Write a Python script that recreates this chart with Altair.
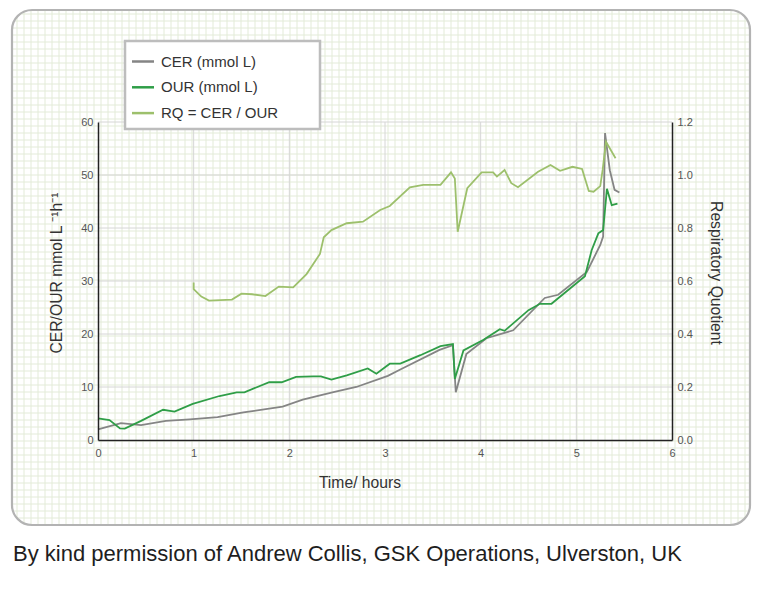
import altair as alt
import numpy as np
import pandas as pd

# ---------------- data ----------------
time_cer = [0, 0.24, 0.45, 0.71, 0.96, 1.25, 1.52, 1.93, 2.14, 2.45, 2.70, 3.03, 3.16,
            3.57, 3.71, 3.74, 3.85, 4.06, 4.34, 4.67, 4.81, 5.11, 5.25, 5.28, 5.30,
            5.35, 5.40, 5.45]
cer = [2.0, 3.2, 2.8, 3.6, 3.9, 4.3, 5.2, 6.3, 7.6, 9.0, 10.0, 12.1, 13.3,
       17.0, 17.9, 9.0, 16.2, 19.2, 20.7, 26.8, 27.4, 31.7, 36.8, 38.4, 57.9,
       50.9, 47.2, 46.7]

time_our = [0, 0.12, 0.23, 0.28, 0.45, 0.68, 0.80, 0.99, 1.27, 1.45, 1.53, 1.79, 1.92,
            2.07, 2.25, 2.33, 2.44, 2.60, 2.82, 2.91, 3.05, 3.16, 3.37, 3.58, 3.71,
            3.73, 3.82, 4.03, 4.20, 4.25, 4.50, 4.62, 4.74, 5.09, 5.16, 5.23, 5.28,
            5.32, 5.37, 5.43]
our = [4.1, 3.75, 2.2, 2.15, 3.6, 5.7, 5.35, 6.8, 8.3, 9.0, 9.0, 10.9, 10.9,
       11.9, 12.0, 12.0, 11.4, 12.2, 13.5, 12.5, 14.4, 14.4, 16.0, 17.7, 18.1,
       11.5, 16.9, 18.9, 20.9, 20.6, 24.5, 25.7, 25.7, 30.9, 35.8, 39.0, 39.6,
       47.4, 44.3, 44.6]

time_rq = [1.0, 1.0, 1.08, 1.16, 1.40, 1.50, 1.61, 1.75, 1.89, 2.04, 2.18, 2.32, 2.36,
           2.44, 2.60, 2.77, 2.95, 3.05, 3.26, 3.40, 3.58, 3.69, 3.73, 3.76, 3.86,
           4.01, 4.13, 4.17, 4.25, 4.32, 4.39, 4.60, 4.73, 4.83, 4.96, 5.06, 5.13,
           5.18, 5.25, 5.275, 5.31, 5.41]
rq = [0.594, 0.569, 0.541, 0.526, 0.530, 0.552, 0.550, 0.543, 0.579, 0.576, 0.626, 0.702, 0.765,
      0.792, 0.818, 0.824, 0.868, 0.883, 0.953, 0.963, 0.963, 1.010, 0.987, 0.786, 0.950,
      1.010, 1.010, 0.994, 1.019, 0.969, 0.954, 1.012, 1.038, 1.016, 1.031, 1.023, 0.940,
      0.937, 0.958, 1.019, 1.125, 1.063]

series_names = ["CER (mmol L)", "OUR (mmol L)", "RQ = CER / OUR"]
series_colors = ["#858585", "#2f9e47", "#9dc06c"]

x_ticks = [0, 1, 2, 3, 4, 5, 6]
left_ticks = [0, 10, 20, 30, 40, 50, 60]
right_ticks = [0.0, 0.2, 0.4, 0.6, 0.8, 1.0, 1.2]

x_title = "Time/ hours"
left_title = "CER/OUR mmol L \u207b\u00b9h\u207b\u00b9"
right_title = "Respiratory Quotient"
caption = "By kind permission of Andrew Collis, GSK Operations, Ulverston, UK"

# ---------------- styling / layout ----------------
FONT = "Liberation Sans"
W, H = 574, 318
# card (rounded frame with graph paper), in plot-area pixel coordinates
L, R, T, B, RAD = -86, 652, -112, 403, 20
PAPER_STEP = 7


def corner_inset(d):
    if d >= RAD:
        return 0.0
    return RAD - np.sqrt(RAD ** 2 - (RAD - d) ** 2)


rows = []
for x in np.arange(L + 5, R - 1, PAPER_STEP):
    ins = corner_inset(min(x - L, R - x))
    rows.append({"x": x, "x2": x, "y": T + ins, "y2": B - ins})
for y in np.arange(T + 4, B - 1, PAPER_STEP):
    ins = corner_inset(min(y - T, B - y))
    rows.append({"x": L + ins, "x2": R - ins, "y": y, "y2": y})
paper_df = pd.DataFrame(rows)

one = pd.DataFrame({"a": [0]})

card_fill = alt.Chart(one).mark_rect(cornerRadius=RAD, fill="white").encode(
    x=alt.value(L), x2=alt.value(R), y=alt.value(T), y2=alt.value(B))

paper = alt.Chart(paper_df).mark_rule(color="#e3ebd8", strokeWidth=1).encode(
    x=alt.X("x:Q", scale=None, axis=None), x2="x2:Q",
    y=alt.Y("y:Q", scale=None, axis=None), y2="y2:Q")

card_border = alt.Chart(one).mark_rect(
    cornerRadius=RAD, fillOpacity=0, stroke="#b3b3b3", strokeWidth=2.2).encode(
    x=alt.value(L), x2=alt.value(R), y=alt.value(T), y2=alt.value(B))

xscale = alt.Scale(domain=[0, 6], nice=False, zero=False)
yscale_l = alt.Scale(domain=[0, 60], nice=False)
yscale_r = alt.Scale(domain=[0, 1.2], nice=False)

common = dict(grid=False, ticks=False, domainColor="#222222", domainWidth=1.5,
              labelColor="#555555", labelFontSize=11, labelFont=FONT,
              titleFont=FONT, titleFontSize=15.7, titleFontWeight="normal",
              titleColor="#333333", zindex=1)

x_axis = alt.Axis(values=x_ticks, format="d", title=x_title, labelPadding=7,
                  labelFlush=False, titlePadding=17, titleX=261.5, **common)
yl_axis = alt.Axis(values=left_ticks, format="d", title=left_title, labelPadding=5,
                   titlePadding=16, titleY=150.5, **common)
yr_axis = alt.Axis(values=right_ticks, format=".1f", title=right_title, orient="right",
                   labelPadding=5, titlePadding=15, titleY=150.5, **common)

X = alt.X("t:Q", scale=xscale, axis=x_axis)
YL = alt.Y("v:Q", scale=yscale_l, axis=yl_axis)

vgrid = alt.Chart(pd.DataFrame({"t": x_ticks[1:-1]})).mark_rule(
    color="#d6d6d6", strokeWidth=1).encode(x=X, y=alt.value(0), y2=alt.value(H))
hgrid = alt.Chart(pd.DataFrame({"v": left_ticks[1:]})).mark_rule(
    color="#d6d6d6", strokeWidth=1).encode(y=YL, x=alt.value(0), x2=alt.value(W))

df_lr = pd.concat([
    pd.DataFrame({"t": time_cer, "v": cer, "series": series_names[0],
                  "i": np.arange(len(cer))}),
    pd.DataFrame({"t": time_our, "v": our, "series": series_names[1],
                  "i": np.arange(len(our))}),
], ignore_index=True)

lines = alt.Chart(df_lr).mark_line(strokeWidth=1.8).encode(
    x=X, y=YL,
    color=alt.Color("series:N", scale=alt.Scale(domain=series_names[:2],
                                                range=series_colors[:2]), legend=None),
    order=alt.Order("i:Q"))

left = alt.layer(vgrid, hgrid, lines)

df_rq = pd.DataFrame({"t": time_rq, "rq": rq, "i": np.arange(len(rq))})
rq_line = alt.Chart(df_rq).mark_line(strokeWidth=1.8, color=series_colors[2]).encode(
    x=X, y=alt.Y("rq:Q", scale=yscale_r, axis=yr_axis), order=alt.Order("i:Q"))

# ---------------- legend (manual, boxed) ----------------
leg_df = pd.DataFrame({"name": series_names, "color": series_colors, "k": [0, 1, 2]})

leg_box = alt.Chart(one).mark_rect(fill="white", stroke="#bdbdbd", strokeWidth=2.5).encode(
    x=alt.value(27), x2=alt.value(222), y=alt.value(-81), y2=alt.value(7))

leg_sym = alt.Chart(leg_df).transform_calculate(ly="-60.5 + datum.k * 25.8").mark_rule(
    strokeWidth=2.5).encode(
    x=alt.value(34), x2=alt.value(56),
    y=alt.Y("ly:Q", scale=None, axis=None),
    color=alt.Color("color:N", scale=None, legend=None))

leg_txt = alt.Chart(leg_df).transform_calculate(ly="-60.5 + datum.k * 25.8").mark_text(
    align="left", baseline="middle", fontSize=15, font=FONT, color="#333333").encode(
    x=alt.value(63), y=alt.Y("ly:Q", scale=None, axis=None), text="name:N")

cap = alt.Chart(pd.DataFrame({"c": [caption]})).mark_text(
    align="left", baseline="alphabetic", fontSize=22, font=FONT, color="#1e1e1e").encode(
    x=alt.value(L + 1), y=alt.value(439), text="c:N")

chart = alt.layer(
    card_fill, paper, card_border, left, rq_line, leg_box, leg_sym, leg_txt, cap
).resolve_scale(y="independent", color="independent").properties(
    width=W, height=H,
    autosize=alt.AutoSizeParams(type="none"),
    padding={"left": 90, "top": 114, "right": 80, "bottom": 135},
    background="white",
).configure_view(stroke=None)

chart.save("out.html", embed_options={"renderer": "svg", "actions": False})
